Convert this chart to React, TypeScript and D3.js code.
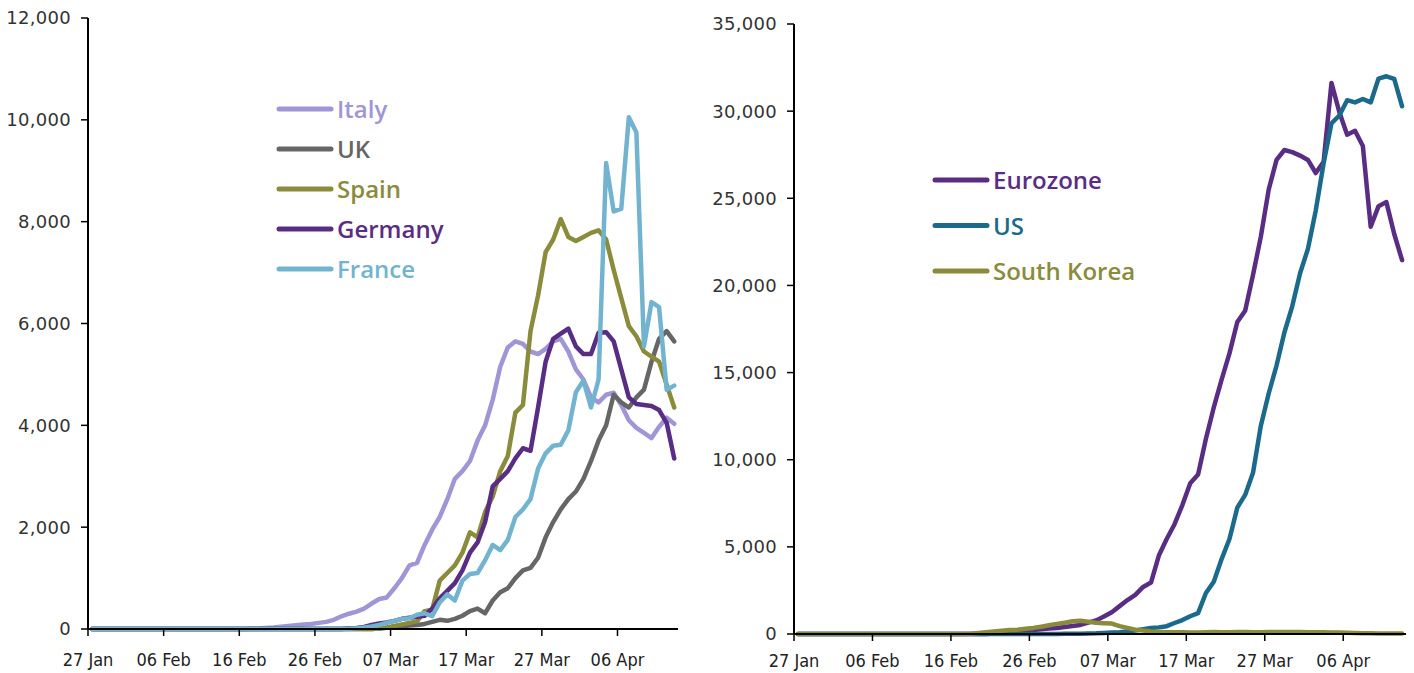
import React from 'react';
import * as d3 from 'd3';

// Day index 0 = 27 Jan 2020, last index 77 = 13 Apr 2020
const dateTickLabels = ["27 Jan", "06 Feb", "16 Feb", "26 Feb", "07 Mar", "17 Mar", "27 Mar", "06 Apr"];
const dateTickDays = [0, 10, 20, 30, 40, 50, 60, 70];
const dayCount = 78;

const leftYTicks = [0, 2000, 4000, 6000, 8000, 10000, 12000];
const rightYTicks = [0, 5000, 10000, 15000, 20000, 25000, 30000, 35000];

const italy = [
  0, 0, 0, 0, 0, 0, 0, 0, 0, 0, 0, 0, 0, 0, 0, 0, 0, 0, 0, 0, 0,
  5, 10, 20, 30, 45, 60, 75, 90, 100, 120, 140, 180, 250, 300, 340, 400, 500, 590, 620,
  800, 1000, 1250, 1300, 1650, 1950, 2200, 2550, 2950, 3100, 3300, 3700, 4000, 4500, 5150,
  5530, 5650, 5600, 5450, 5400, 5500, 5650, 5700, 5450, 5100, 4900, 4550, 4450, 4600, 4640,
  4400, 4100, 3950, 3850, 3750, 3970, 4150, 4030,
];
const uk = [
  0, 0, 0, 0, 0, 0, 0, 0, 0, 0, 0, 0, 0, 0, 0, 0, 0, 0, 0, 0,
  0, 0, 0, 0, 0, 0, 0, 0, 0, 0, 0, 0, 0, 0, 0, 0, 0, 0,
  10, 25, 40, 50, 70, 80, 100, 140, 180, 160, 200, 260, 350, 400, 310, 560, 720, 800,
  1000, 1150, 1200, 1400, 1800, 2100, 2350, 2550, 2700, 2950, 3300, 3700, 4000, 4600,
  4450, 4350, 4550, 4700, 5250, 5700, 5850, 5650,
];
const spain = [
  0, 0, 0, 0, 0, 0, 0, 0, 0, 0, 0, 0, 0, 0, 0, 0, 0, 0, 0, 0,
  0, 0, 0, 0, 0, 0, 0, 0, 0, 0, 0, 0, 0, 0, 0, 0, 0, 0,
  10, 30, 60, 90, 120, 150, 350, 380, 950, 1100, 1250, 1500, 1900, 1800, 2300, 2600,
  3100, 3400, 4250, 4400, 5850, 6550, 7400, 7650, 8050, 7700, 7620, 7700, 7780, 7830,
  7650, 7050, 6500, 5950, 5750, 5450, 5350, 5250, 4800, 4350,
];
const germany = [
  0, 0, 0, 0, 0, 0, 0, 0, 0, 0, 0, 0, 0, 0, 0, 0, 0,
  0, 0, 0, 0, 0, 0, 0, 0, 0, 0, 0, 0, 0, 0, 0, 0, 0,
  10, 20, 40, 80, 110, 130, 160, 200, 220, 240, 260, 400, 600, 750, 900, 1150, 1500,
  1700, 2100, 2800, 2950, 3100, 3350, 3550, 3500, 4350, 5250, 5700, 5800, 5900, 5550,
  5400, 5400, 5820, 5830, 5650, 5100, 4550, 4420, 4400, 4380, 4300, 4050, 3350,
];
const france = [
  0, 0, 0, 0, 0, 0, 0, 0, 0, 0, 0, 0, 0, 0, 0, 0, 0,
  0, 0, 0, 0, 0, 0, 0, 0, 0, 0, 0, 0, 0, 0, 0, 0, 0,
  5, 15, 30, 50, 80, 120, 160, 200, 210, 280, 310, 250, 520, 680, 560, 950, 1080,
  1100, 1350, 1650, 1550, 1750, 2200, 2350, 2550, 3150, 3450, 3600, 3620, 3900, 4650,
  4880, 4350, 4900, 9150, 8200, 8250, 10050, 9750, 5550, 6420, 6320, 4700, 4780,
];

const eurozone = [
  0, 0, 0, 0, 0, 0, 0, 0, 0, 0, 0, 0, 0, 0, 0, 0, 0, 0, 0, 0, 0, 0, 0, 0, 0,
  30, 50, 80, 120, 170, 230, 270, 310, 340, 400, 460, 520, 650, 780, 1000, 1250, 1600,
  1950, 2250, 2700, 2950, 4500, 5450, 6300, 7400, 8650, 9150, 11200, 13000, 14600,
  16100, 17900, 18550, 20600, 22800, 25500, 27200, 27770, 27650, 27450, 27200, 26450,
  27100, 31620, 29950, 28650, 28870, 28000, 23370, 24550, 24780, 22950, 21450,
];
const us = [
  0, 0, 0, 0, 0, 0, 0, 0, 0, 0, 0, 0, 0, 0, 0, 0, 0,
  0, 0, 0, 0, 0, 0, 0, 0, 0, 0, 0, 0, 0, 0, 0, 0, 0,
  10, 15, 20, 30, 40, 60, 80, 100, 150, 200, 280, 340, 380, 450, 630, 800, 1020, 1200,
  2350, 3000, 4300, 5450, 7250, 7980, 9250, 11950, 13800, 15400, 17300, 18800, 20700,
  22100, 24300, 27000, 29300, 29750, 30630, 30500, 30700, 30500, 31870, 32000, 31850, 30280,
];
const southKorea = [
  0, 0, 0, 0, 0, 0, 0, 0, 0, 0, 0, 0, 0, 0, 0, 0, 0, 0, 0, 0, 0, 0,
  20, 60, 100, 140, 180, 230, 250, 300, 350, 420, 500, 580, 650, 730, 760, 700, 650,
  620, 600, 450, 350, 250, 200, 140, 120, 100, 100, 100, 90, 90, 100, 110, 100, 100,
  110, 120, 100, 100, 110, 120, 115, 110, 110, 100, 100, 100, 90, 80, 70, 60, 50, 40,
  30, 30, 30, 30,
];

const leftSeries = [
  { name: "Italy", values: italy, color: "#a096d6" },
  { name: "UK", values: uk, color: "#666666" },
  { name: "Spain", values: spain, color: "#8a8b3b" },
  { name: "Germany", values: germany, color: "#5a2d84" },
  { name: "France", values: france, color: "#72b4cf" },
];
const rightSeries = [
  { name: "Eurozone", values: eurozone, color: "#5a2d84" },
  { name: "US", values: us, color: "#1b6a8c" },
  { name: "South Korea", values: southKorea, color: "#8a8b3b" },
];

const fmt = d3.format(",");
const yLabelFont = "'DejaVu Sans', Verdana, sans-serif";
const xLabelFont = "'DejaVu Sans Condensed', 'Liberation Sans Narrow', 'Roboto Condensed', Roboto, sans-serif";
const legendFont = "'Open Sans', 'Noto Sans', sans-serif";

type Series = { name: string; values: number[]; color: string };

function Panel(props: {
  x0: number; x1: number; y0: number; y1: number; yMax: number; yTicks: number[];
  series: Series[]; legendX: number; legendY: number; legendGap: number; labelBaseline: number;
}) {
  const { x0, x1, y0, y1, yMax, yTicks, series, legendX, legendY, legendGap, labelBaseline } = props;
  const x = d3.scaleLinear().domain([0, dayCount]).range([x0, x1]);
  const y = d3.scaleLinear().domain([0, yMax]).range([y0, y1]);
  const line = d3.line<number>().x((_, i) => x(i + 0.5)).y((v) => y(v));
  return (
    <g>
      {series.map((s) => (
        <path key={s.name} d={line(s.values) || ""} fill="none" stroke={s.color}
          strokeWidth={4.5} strokeLinejoin="round" strokeLinecap="round" />
      ))}
      {/* axes */}
      <line x1={x0} x2={x0} y1={y1} y2={y0} stroke="#000" strokeWidth={2} />
      <line x1={x0} x2={x1} y1={y0} y2={y0} stroke="#000" strokeWidth={2} />
      {yTicks.map((t) => (
        <g key={t}>
          <line x1={x0 - 7} x2={x0} y1={y(t)} y2={y(t)} stroke="#000" strokeWidth={1.5} />
          <text x={x0 - 17} y={y(t)} dy="0.36em" textAnchor="end" fontFamily={yLabelFont}
            fontSize={18} letterSpacing={0.3} fill="#333">{fmt(t)}</text>
        </g>
      ))}
      {dateTickDays.map((d, i) => (
        <g key={d}>
          <line x1={x(d)} x2={x(d)} y1={y0} y2={y0 + 7} stroke="#000" strokeWidth={1.5} />
          <text x={x(d)} y={labelBaseline} textAnchor="middle" fontFamily={xLabelFont}
            fontStretch="condensed" fontSize={18} fill="#222">{dateTickLabels[i]}</text>
        </g>
      ))}
      {series.map((s, i) => (
        <g key={s.name + "-lg"}>
          <line x1={legendX} x2={legendX + 52} y1={legendY + i * legendGap} y2={legendY + i * legendGap}
            stroke={s.color} strokeWidth={5} strokeLinecap="round" />
          <text x={legendX + 58} y={legendY + i * legendGap + 9} fontFamily={legendFont}
            fontWeight={600} fontSize={24} fill={s.color}>{s.name}</text>
        </g>
      ))}
    </g>
  );
}

export default function App() {
  return (
    <svg width={1414} height={673} style={{ position: "absolute", left: 0, top: 0, background: "#fff" }}>
      <rect x={0} y={0} width={1414} height={673} fill="#fff" />
      <Panel x0={88} x1={678} y0={629} y1={18} yMax={12000} yTicks={leftYTicks}
        series={leftSeries} legendX={279} legendY={109} legendGap={40} labelBaseline={666} />
      <Panel x0={794} x1={1406} y0={634} y1={24} yMax={35000} yTicks={rightYTicks}
        series={rightSeries} legendX={935} legendY={180} legendGap={45.5} labelBaseline={667} />
    </svg>
  );
}
